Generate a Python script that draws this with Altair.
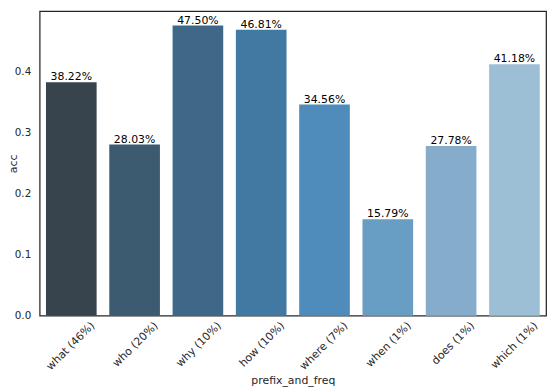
import altair as alt
import pandas as pd

categories = ["what (46%)", "who (20%)", "why (10%)", "how (10%)", "where (7%)",
              "when (1%)", "does (1%)", "which (1%)"]
acc = [0.3822, 0.2803, 0.4750, 0.4681, 0.3456, 0.1579, 0.2778, 0.4118]
colors = ["#37444d", "#3c5a70", "#3f6888", "#4279a3", "#4f8cbb", "#689ec3", "#85adcb", "#9dbfd6"]
y_ticks = [0.0, 0.1, 0.2, 0.3, 0.4]

df = pd.DataFrame({"prefix_and_freq": categories, "acc": acc})
df["label"] = [f"{v*100:.2f}%" for v in acc]

font = "DejaVu Sans"

x = alt.X("prefix_and_freq:N", sort=categories,
          scale=alt.Scale(paddingInner=0.2, paddingOuter=0.1),
          axis=alt.Axis(title="prefix_and_freq", labelAngle=-45, labelAlign="right",
                        labelBaseline="middle", labelOffset=22, labelPadding=8,
                        ticks=False, domain=False, labelFontSize=11, titleFontSize=11,
                        titleFontWeight="normal", titlePadding=3,
                        labelColor="#262626", titleColor="#262626", labelFont=font, titleFont=font))
y = alt.Y("acc:Q", scale=alt.Scale(domain=[0, 0.49875], nice=False),
          axis=alt.Axis(title="acc", values=y_ticks, format=".1f", ticks=False, domain=False,
                        grid=False, labelFontSize=10.5, titleFontSize=11, titleFontWeight="normal",
                        labelPadding=9, titleX=-21, labelColor="#262626", titleColor="#262626",
                        labelFont=font, titleFont=font))

bars = alt.Chart(df).mark_bar().encode(
    x=x, y=y,
    color=alt.Color("prefix_and_freq:N", sort=categories,
                    scale=alt.Scale(domain=categories, range=colors), legend=None),
)
texts = alt.Chart(df).mark_text(baseline="bottom", dy=0, fontSize=11, font=font, color="black").encode(
    x=alt.X("prefix_and_freq:N", sort=categories), y="acc:Q", text="label:N")

chart = (bars + texts).properties(
    width=512, height=308,
    background="white",
    autosize=alt.AutoSizeParams(type="none"),
    padding={"left": 32, "top": 1, "right": 6, "bottom": 72},
).configure_view(stroke="#262626", strokeWidth=1.25)

chart.save("out.html", embed_options={"renderer": "svg", "actions": False})
